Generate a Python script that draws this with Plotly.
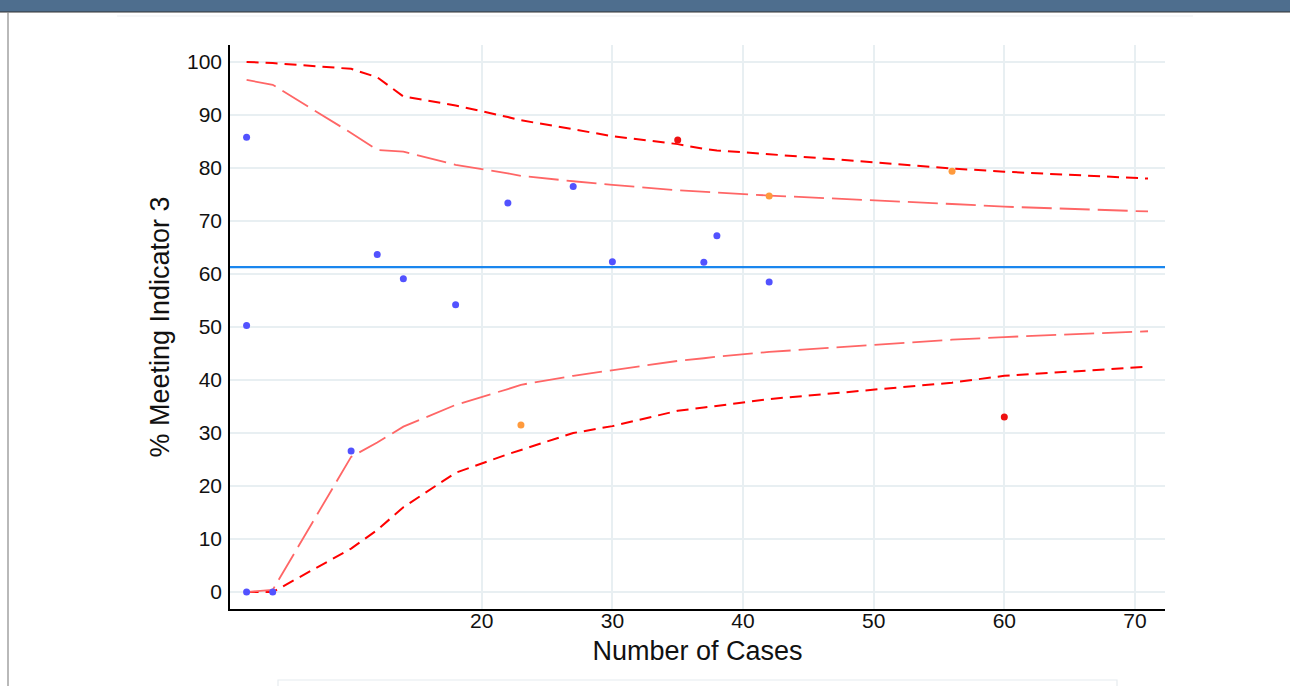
import plotly.graph_objects as go

# Observed rates by unit, grouped by where they fall against the control limits
blue_n = [2, 2, 2, 4, 10, 12, 14, 18, 22, 27, 30, 37, 38, 42]
blue_pct = [85.8, 50.3, 0, 0, 26.6, 63.7, 59.1, 54.2, 73.4, 76.5, 62.3, 62.2, 67.2, 58.5]
orange_n = [23, 42, 56]
orange_pct = [31.5, 74.7, 79.4]
red_n = [35, 60]
red_pct = [85.3, 33.0]

overall_mean = 61.3

# Control limits evaluated at each case count
limit_n = [2, 4, 10, 12, 14, 18, 22, 23, 27, 30, 35, 37, 38, 42, 56, 60, 71]
upper_998 = [100, 99.8, 98.7, 97.1, 93.5, 91.8, 89.6, 89.0, 87.3, 86.0, 84.5, 83.6, 83.3, 82.6, 79.9, 79.3, 78.0]
upper_95 = [96.6, 95.7, 86.6, 83.4, 83.1, 80.6, 79.0, 78.5, 77.5, 76.8, 75.8, 75.5, 75.3, 74.8, 73.2, 72.7, 71.8]
lower_95 = [0, 0.4, 25.5, 28.2, 31.2, 35.3, 38.3, 39.1, 40.8, 41.9, 43.6, 44.1, 44.4, 45.3, 47.6, 48.1, 49.2]
lower_998 = [0, 0, 8.2, 11.7, 16.0, 22.5, 26.0, 26.8, 30.0, 31.3, 34.2, 34.8, 35.1, 36.4, 39.5, 40.8, 42.5]

x_ticks = [20, 30, 40, 50, 60, 70]
y_ticks = [0, 10, 20, 30, 40, 50, 60, 70, 80, 90, 100]

W, H = 1290, 686
ML, MR, MT, MB = 230, 125, 45, 77
PW, PH = W - ML - MR, H - MT - MB


def px(x):
    return (x - ML) / PW


def py(y):
    return (H - MB - y) / PH


fig = go.Figure()

dark_red = "#ff0000"
light_red = "#ff6666"

for vals in (upper_998, lower_998):
    fig.add_trace(go.Scatter(x=limit_n, y=vals, mode="lines",
                             line=dict(color=dark_red, width=2, dash="12px,7px"),
                             hoverinfo="skip", showlegend=False))
for vals in (upper_95, lower_95):
    fig.add_trace(go.Scatter(x=limit_n, y=vals, mode="lines",
                             line=dict(color=light_red, width=1.8, dash="30px,8px"),
                             hoverinfo="skip", showlegend=False))

fig.add_shape(type="line", xref="paper", yref="y", x0=0, x1=1,
              y0=overall_mean, y1=overall_mean,
              line=dict(color="#1a86ee", width=2.2))

fig.add_trace(go.Scatter(x=blue_n, y=blue_pct, mode="markers",
                         marker=dict(color="#5252ff", size=7), showlegend=False))
fig.add_trace(go.Scatter(x=orange_n, y=orange_pct, mode="markers",
                         marker=dict(color="#ff9a3c", size=7), showlegend=False))
fig.add_trace(go.Scatter(x=red_n, y=red_pct, mode="markers",
                         marker=dict(color="#ee1111", size=7), showlegend=False))

# Page chrome around the chart
fig.add_shape(type="rect", xref="paper", yref="paper",
              x0=px(-5), x1=px(W + 5), y0=py(12), y1=py(-5),
              fillcolor="#4e6e8e", line=dict(width=0), layer="above")
fig.add_shape(type="line", xref="paper", yref="paper",
              x0=px(0), x1=px(W), y0=py(12), y1=py(12),
              line=dict(color="#333333", width=1.2))
fig.add_shape(type="line", xref="paper", yref="paper",
              x0=px(8), x1=px(8), y0=py(12), y1=py(H + 5),
              line=dict(color="#8a8a8a", width=1.2))
fig.add_shape(type="line", xref="paper", yref="paper",
              x0=px(117), x1=px(1193), y0=py(16), y1=py(16),
              line=dict(color="#eef0f2", width=1.2))
fig.add_shape(type="rect", xref="paper", yref="paper",
              x0=px(278), x1=px(1117), y0=py(H + 10), y1=py(680),
              line=dict(color="#e6ecef", width=1.2), fillcolor="rgba(0,0,0,0)")

axis_font = dict(family="Liberation Sans, Arial, sans-serif", size=21, color="#111111")

fig.update_layout(
    width=W, height=H,
    margin=dict(l=ML, r=MR, t=MT, b=MB, pad=0),
    paper_bgcolor="white", plot_bgcolor="white",
    font=dict(family="Liberation Sans, Arial, sans-serif", color="#111111"),
    xaxis=dict(range=[0.73, 72.3], tickvals=x_ticks, ticktext=[str(v) for v in x_ticks],
               showgrid=True, gridcolor="#e8eff2", gridwidth=2,
               showline=True, linecolor="#000000", linewidth=1.5,
               zeroline=False, ticks="", tickfont=axis_font, ticklabelstandoff=-8,
               title=dict(text="Number of Cases", font=dict(size=27), standoff=10)),
    yaxis=dict(range=[-3.2, 103.2], tickvals=y_ticks, ticktext=[str(v) for v in y_ticks],
               showgrid=True, gridcolor="#e8eff2", gridwidth=2,
               showline=True, linecolor="#000000", linewidth=1.5,
               zeroline=False, ticks="", tickfont=axis_font, ticklabelstandoff=2,
               title=dict(text="% Meeting Indicator 3", font=dict(size=27), standoff=10)),
)

fig.write_html("out.html")
